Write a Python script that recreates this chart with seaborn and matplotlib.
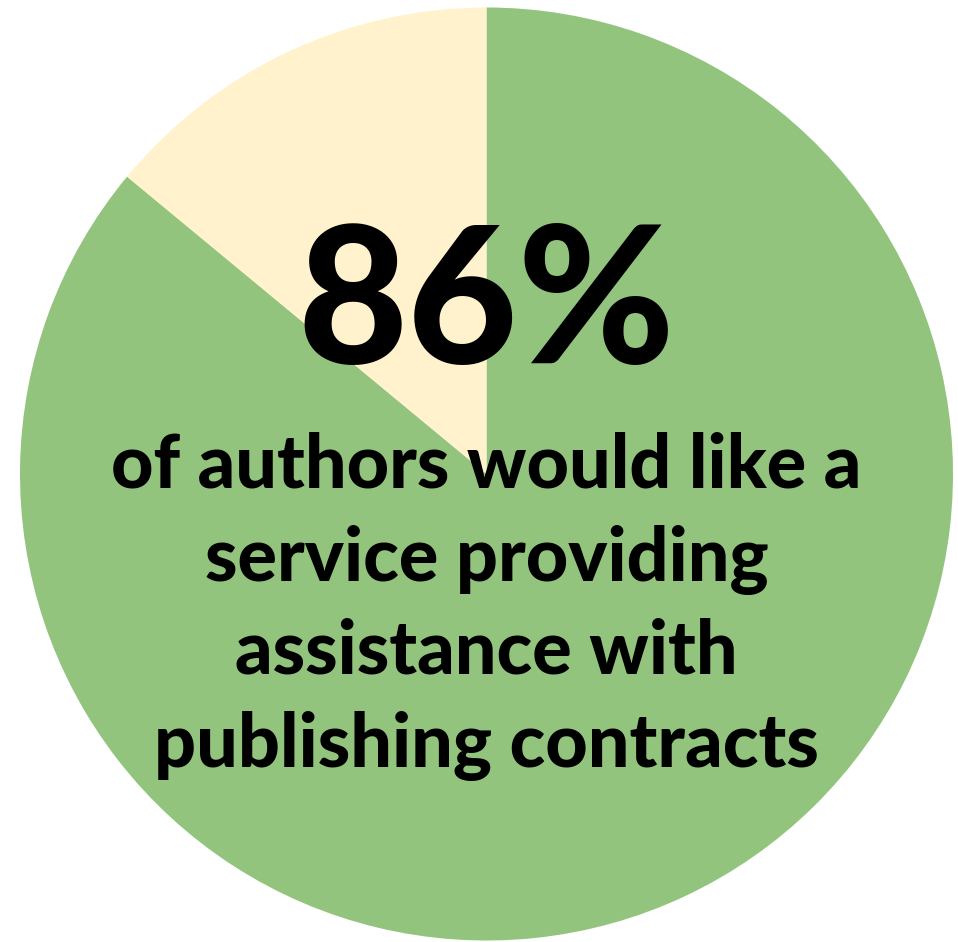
import matplotlib
matplotlib.use("Agg")
import matplotlib.pyplot as plt
import seaborn as sns

# Survey result
labels = ["Would like the service", "Would not"]
shares = [86, 14]
headline = "86%"
caption_lines = [
    "of authors would like a",
    "service providing",
    "assistance with",
    "publishing contracts",
]

sns.set_theme(style="white")
plt.rcParams["font.family"] = ["Lato", "DejaVu Sans"]

palette = sns.color_palette(["#93C47D", "#FFF2CC"])

W, H, DPI = 958, 942, 100
fig = plt.figure(figsize=(W / DPI, H / DPI), dpi=DPI)
fig.patch.set_facecolor("white")

cx, cy, r = 486.5, 474.0, 466.5
ax = fig.add_axes([(cx - r) / W, 1 - (cy + r) / H, 2 * r / W, 2 * r / H])
ax.pie(shares, colors=palette, startangle=90, counterclock=False,
       radius=1.0, wedgeprops=dict(linewidth=0))
ax.set_xlim(-1, 1)
ax.set_ylim(-1, 1)
ax.set_aspect("equal")
ax.axis("off")


def ydata(ypix):
    return (cy - ypix) / r


ax.text(0, ydata(363), headline, ha="center", va="baseline",
        fontsize=137, fontweight=900, color="black")

baselines = [488, 581, 674, 767]
for line, b in zip(caption_lines, baselines):
    ax.text(0, ydata(b), line, ha="center", va="baseline",
            fontsize=53, fontweight=900, color="black")

fig.savefig("out.png", dpi=DPI, facecolor="white")
